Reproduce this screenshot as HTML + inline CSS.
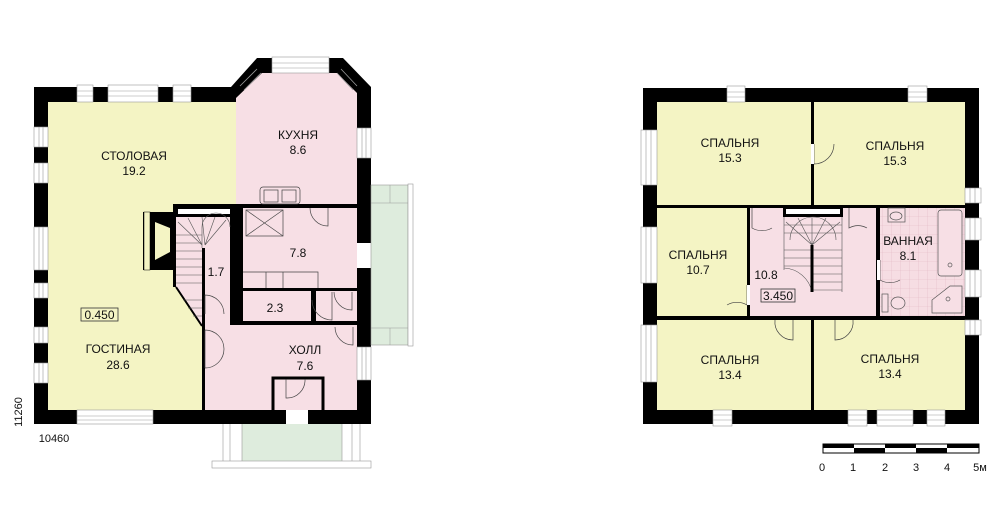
<!DOCTYPE html>
<html><head><meta charset="utf-8"><style>
html,body{margin:0;padding:0;background:#fff}
svg{display:block}
text{font-family:"Liberation Sans",sans-serif;font-size:12px;fill:#111;text-anchor:middle}
</style></head><body>
<svg width="1000" height="530" viewBox="0 0 1000 530" xmlns="http://www.w3.org/2000/svg">
<defs>
<pattern id="tile" width="9" height="9" patternUnits="userSpaceOnUse"><rect width="9" height="9" fill="#f6dde3"/><path d="M0 0H9M0 0V9" stroke="#e2b8c4" stroke-width="0.6"/></pattern>
</defs>
<!-- ============ LEFT PLAN ============ -->
<path d="M34 87 H231 L257 58 H343 L371 87 V424 H34 Z" fill="#000"/>
<rect x="48" y="102" width="190" height="308" fill="#f4f4c4"/>
<path d="M236 98 L262 73 H337 L357 93 V205 H236 Z" fill="#f7dfe5"/>
<rect x="173" y="204" width="184" height="121" fill="#000"/>
<rect x="176" y="217" width="54" height="70" fill="#f7dfe5"/>
<path d="M172 287 L176 287 L202 326 H172 Z" fill="#f4f4c4"/>
<path d="M176 287 L202 287 L202 326 Z" fill="#f7dfe5"/>
<rect x="205" y="248" width="25" height="66" fill="#f7dfe5"/>
<rect x="243" y="208" width="114" height="80" fill="#f7dfe5"/>
<rect x="243" y="291" width="68" height="30" fill="#f7dfe5"/>
<rect x="316" y="291" width="41" height="30" fill="#f7dfe5"/>
<rect x="203" y="325" width="154" height="85" fill="#f7dfe5"/>
<rect x="202" y="314" width="28" height="11" fill="#f7dfe5"/>
<path d="M176 287 L202 326" stroke="#000" stroke-width="2"/>
<line x1="203.5" y1="248" x2="203.5" y2="410" stroke="#000" stroke-width="3"/>
<rect x="178" y="209" width="52" height="5" fill="#fff"/>
<g stroke="#555" stroke-width="0.6" fill="none">
<path d="M176 235 H202 M176 243 H202 M176 251 H202 M176 259 H202 M176 267 H202 M176 275 H202 M176 283 H202"/>
<path d="M202 227 A14 14 0 0 1 230 227 M202 227 V248"/>
<path d="M202 245 L178 222 M202 245 L188 218 M205 245 L202 217 M205 245 L215 217 M205 245 L226 220"/>
<path d="M183 300 L202 300 M188 308 L202 308 M193 316 L202 316"/>
</g>
<path d="M273 410 V378 H323 V410" fill="#f7dfe5" stroke="#000" stroke-width="3"/>
<rect x="143" y="212" width="30" height="58" fill="#000"/>
<rect x="144" y="212" width="6" height="58" fill="#f4f4c4" stroke="#000" stroke-width="0.5"/>
<path d="M155 222 L170 228 V252 L155 260 Z" fill="#f4f4c4"/>
<rect x="260" y="187" width="40" height="17" rx="3" fill="#f7dfe5" stroke="#444" stroke-width="0.7"/>
<rect x="264" y="190" width="14" height="12" fill="none" stroke="#444" stroke-width="0.7"/>
<rect x="282" y="190" width="14" height="12" fill="none" stroke="#444" stroke-width="0.7"/>
<rect x="246" y="210" width="37" height="26" fill="none" stroke="#444" stroke-width="0.7"/>
<path d="M246 210 L283 236 M283 210 L246 236" stroke="#444" stroke-width="0.7"/>
<path d="M243 272 H318 V288 M266 272 V288 M283 272 V288" fill="none" stroke="#444" stroke-width="0.7"/>
<g stroke="#444" stroke-width="0.7" fill="none">
<path d="M328 208 V226 A18 18 0 0 1 310 208"/>
<path d="M205 314 V295 A19 19 0 0 1 224 314"/>
<path d="M205 330 V368 M205 330 A19 19 0 0 1 224 349 M205 368 A19 19 0 0 0 224 349"/>
<path d="M332 292 V320 A20 20 0 0 1 312 300"/>
<path d="M352 292 V310 A18 18 0 0 1 334 292"/>
<path d="M353 327 V345 A18 18 0 0 1 335 327"/>
<path d="M286 379 V398 A18 18 0 0 0 305 379"/>
<path d="M285 424 V450 A26 26 0 0 0 311 424"/>
<path d="M371 243 V268 A25 25 0 0 0 396 243"/>
</g>
<g fill="#fff" stroke="#999" stroke-width="0.6">
<rect x="77" y="85" width="16" height="17"/><rect x="108" y="85" width="50" height="17"/><rect x="173" y="85" width="18" height="17"/>
<rect x="34" y="127" width="14" height="20"/><rect x="34" y="163" width="14" height="20"/><rect x="34" y="227" width="14" height="43"/>
<rect x="34" y="283" width="14" height="15"/><rect x="34" y="327" width="14" height="16"/><rect x="34" y="363" width="14" height="20"/>
<rect x="77" y="410" width="76" height="14"/>
<rect x="357" y="128" width="14" height="30"/><rect x="357" y="347" width="14" height="33"/>
<rect x="272" y="57" width="57" height="16"/>
</g>
<path d="M77 91H93M77 96H93M108 91H158M108 96H158M173 91H191M173 96H191M39 127V147M43 127V147M39 163V183M43 163V183M39 227V270M43 227V270M39 283V298M43 283V298M39 327V343M43 327V343M39 363V383M43 363V383M77 416H153M77 420H153M362 128V158M366 128V158M362 347V380M366 347V380M272 63H329M272 68H329" stroke="#999" stroke-width="0.6"/>
<path d="M240 86 L257 69 M244 90 L261 73 M341 69 L357 86 M337 73 L353 90" stroke="#999" stroke-width="0.8"/>
<rect x="286" y="410" width="22" height="14" fill="#fff"/>
<rect x="357" y="243" width="14" height="25" fill="#fff"/>
<rect x="371" y="185" width="37" height="160" fill="#deecdd" stroke="#999" stroke-width="0.6"/>
<rect x="408" y="184" width="5" height="162" fill="#fff" stroke="#999" stroke-width="0.6"/>
<path d="M371 203H408M371 328H408M390 185V203M390 328V345" stroke="#999" stroke-width="0.5"/>
<rect x="242" y="424" width="100" height="37" fill="#deecdd"/>
<path d="M223 424V461M230 424V461M242 424V461M342 424V461M352 424V461M360 424V461" stroke="#999" stroke-width="0.6"/>
<rect x="212" y="461" width="159" height="7" fill="#fff" stroke="#999" stroke-width="0.6"/>
<text x="134" y="160">СТОЛОВАЯ</text><text x="134" y="175">19.2</text>
<text x="298" y="139">КУХНЯ</text><text x="298" y="154">8.6</text>
<text x="298" y="257">7.8</text>
<text x="216" y="276">1.7</text>
<text x="275" y="312">2.3</text>
<text x="305" y="354">ХОЛЛ</text><text x="305" y="370">7.6</text>
<text x="118" y="353">ГОСТИНАЯ</text><text x="118" y="369">28.6</text>
<rect x="81" y="308" width="37" height="13" fill="none" stroke="#333" stroke-width="0.8"/>
<text x="99.5" y="319">0.450</text>
<text x="54" y="442" style="font-size:11px">10460</text>
<text x="0" y="0" transform="translate(22 412) rotate(-90)" style="font-size:11px">11260</text>

<!-- ============ RIGHT PLAN ============ -->
<rect x="643" y="88" width="336" height="336" fill="#000"/>
<rect x="657" y="102" width="154" height="103" fill="#f4f4c4"/>
<rect x="814" y="102" width="151" height="103" fill="#f4f4c4"/>
<rect x="657" y="208" width="90" height="108" fill="#f4f4c4"/>
<rect x="750" y="208" width="126" height="108" fill="#f7dfe5"/>
<rect x="880" y="208" width="85" height="108" fill="url(#tile)"/>
<rect x="657" y="320" width="154" height="90" fill="#f4f4c4"/>
<rect x="814" y="320" width="151" height="90" fill="#f4f4c4"/>
<rect x="783" y="207" width="60" height="10" fill="#000"/>
<rect x="786" y="209" width="54" height="5" fill="#fff"/>
<g stroke="#555" stroke-width="0.6" fill="none">
<path d="M784 217 V270 M842 217 V292 M784 225 H842 M784 233 H842 M784 250H842M784 258H842M784 266H842M813 274H842M813 282H842M813 290H842"/>
<path d="M790 240 A23 23 0 0 1 836 240"/>
<path d="M812 245 L786 222 M812 245 L798 218 M812 245 L812 218 M812 245 L826 218 M812 245 L840 222"/>
<path d="M784 268 A30 30 0 0 1 812 292"/>
</g>
<line x1="812" y1="245" x2="812" y2="292" stroke="#000" stroke-width="3"/>
<g fill="#f7dfe5" stroke="#555" stroke-width="0.7">
<rect x="938" y="210" width="24" height="66" rx="3"/>
<circle cx="950" cy="265" r="2"/>
<path d="M950 286 H962 V313 H932 V300 Z"/>
<circle cx="948" cy="299" r="2"/>
<rect x="888" y="208" width="17" height="14"/>
<ellipse cx="896" cy="216" rx="6" ry="4"/>
<ellipse cx="898" cy="303" rx="7" ry="6"/>
<rect x="882" y="294" width="6" height="18"/>
</g>
<g stroke="#444" stroke-width="0.7" fill="none">
<path d="M814 144 V164 A20 20 0 0 0 834 144"/>
<path d="M752 208 V228 A20 20 0 0 0 772 228"/>
<path d="M849 208 V228 A18 18 0 0 1 867 228"/>
<path d="M880 260 V280 A20 20 0 0 0 900 280"/>
<path d="M747 285 V305 A20 20 0 0 0 727 305"/>
<path d="M793 320 V340 A18 18 0 0 1 775 320"/>
<path d="M835 320 V340 A18 18 0 0 0 853 320"/>
</g>
<rect x="811" y="144" width="3" height="20" fill="#fff"/>
<rect x="877" y="260" width="3" height="20" fill="#fff"/>
<rect x="747" y="285" width="3" height="20" fill="#fff"/>
<g fill="#fff" stroke="#999" stroke-width="0.6">
<rect x="727" y="86" width="18" height="16"/><rect x="908" y="86" width="19" height="16"/>
<rect x="641" y="130" width="16" height="55"/><rect x="641" y="227" width="16" height="56"/><rect x="641" y="325" width="16" height="57"/>
<rect x="965" y="188" width="16" height="15"/><rect x="965" y="218" width="16" height="22"/><rect x="965" y="270" width="16" height="27"/><rect x="965" y="320" width="16" height="15"/>
<rect x="713" y="410" width="19" height="16"/><rect x="848" y="410" width="19" height="16"/><rect x="877" y="410" width="36" height="16"/><rect x="927" y="410" width="18" height="16"/>
</g>
<path d="M727 92H745M727 97H745M908 92H927M908 97H927M646 130V185M651 130V185M646 227V283M651 227V283M646 325V382M651 325V382M970 188V203M975 188V203M970 218V240M975 218V240M970 270V297M975 270V297M970 320V335M975 320V335M713 415H732M713 420H732M848 415H867M848 420H867M877 415H913M877 420H913M927 415H945M927 420H945" stroke="#999" stroke-width="0.6"/>
<text x="730" y="147">СПАЛЬНЯ</text><text x="730" y="162">15.3</text>
<text x="895" y="150">СПАЛЬНЯ</text><text x="895" y="165">15.3</text>
<text x="698" y="259">СПАЛЬНЯ</text><text x="698" y="274">10.7</text>
<text x="766" y="279">10.8</text>
<rect x="761" y="289" width="34" height="13" fill="none" stroke="#333" stroke-width="0.8"/>
<text x="778" y="300">3.450</text>
<text x="908" y="245">ВАННАЯ</text><text x="908" y="260">8.1</text>
<text x="730" y="364">СПАЛЬНЯ</text><text x="730" y="379">13.4</text>
<text x="890" y="363">СПАЛЬНЯ</text><text x="890" y="378">13.4</text>
<rect x="823" y="444" width="156" height="9" fill="#fff" stroke="#000" stroke-width="1"/>
<rect x="823" y="444" width="31" height="4" fill="#000"/>
<rect x="854" y="448" width="31" height="5" fill="#000"/>
<rect x="885" y="444" width="31" height="4" fill="#000"/>
<rect x="916" y="448" width="31" height="5" fill="#000"/>
<rect x="947" y="444" width="32" height="4" fill="#000"/>
<text x="822" y="471" style="font-size:11px">0</text><text x="853" y="471" style="font-size:11px">1</text><text x="885" y="471" style="font-size:11px">2</text><text x="916" y="471" style="font-size:11px">3</text><text x="947" y="471" style="font-size:11px">4</text><text x="980" y="471" style="font-size:11px">5м</text>
</svg>
</body></html>
